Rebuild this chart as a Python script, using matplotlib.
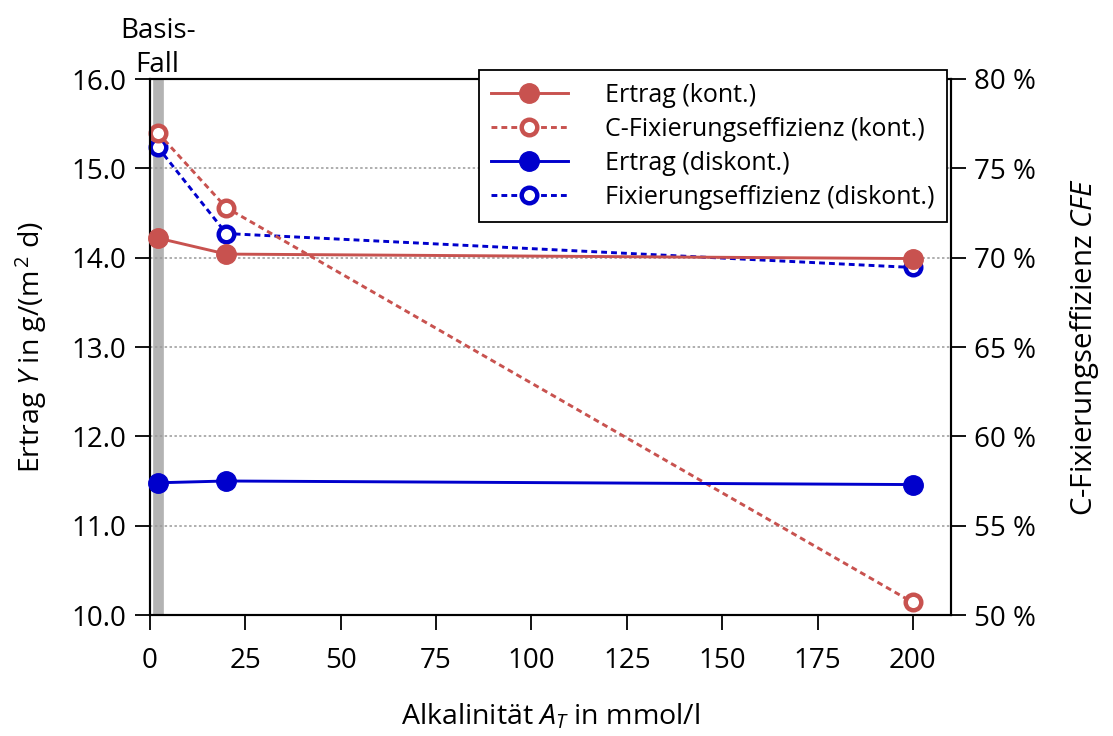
import matplotlib
matplotlib.use("Agg")
import matplotlib.pyplot as plt
from matplotlib.lines import Line2D
from matplotlib.ticker import FuncFormatter, MultipleLocator

plt.rcParams["font.family"] = ["Open Sans", "DejaVu Sans"]
plt.rcParams["mathtext.fontset"] = "custom"
plt.rcParams["mathtext.rm"] = "Open Sans"
plt.rcParams["mathtext.it"] = "Open Sans:italic"

# Alkalinity levels (mmol/l)
alkalinity = [2, 20, 200]
base_case = 2

# Yield in g/(m^2 d)
yield_cont = [14.22, 14.04, 13.99]
yield_discont = [11.48, 11.50, 11.46]

# Carbon fixation efficiency in %
cfe_cont = [77.0, 72.8, 50.7]
cfe_discont = [76.2, 71.35, 69.45]

red = "#c8524f"
blue = "#0000cc"
dash = (0, (2.0, 1.4))
lw = 2.1
ms_filled = 14.0
ms_open = 11.2
mew_open = 3.2

fig = plt.figure(figsize=(11.13, 7.36), dpi=100)
ax = fig.add_axes([150 / 1113, 1 - 615 / 736, 801 / 1113, 536 / 736])
ax2 = ax.twinx()
ax.set_zorder(ax2.get_zorder() + 1)
ax.patch.set_visible(False)

# base case marker and grid on the rear axes
ax2.axvline(base_case, color="#b3b3b3", lw=7.7, zorder=0)
ax2.grid(True, axis="both", linestyle=(0, (1.6, 1.6)), color="#999999",
         lw=1.1, zorder=0)

# efficiency curves (right axis)
ax2.plot(alkalinity, cfe_discont, color=blue, ls=dash, lw=lw,
         marker="o", ms=ms_open, mfc="white", mec=blue, mew=mew_open,
         clip_on=False, zorder=3)
ax2.plot(alkalinity, cfe_cont, color=red, ls=dash, lw=lw,
         marker="o", ms=ms_open, mfc="white", mec=red, mew=mew_open,
         clip_on=False, zorder=4)

# yield curves (left axis)
ax.plot(alkalinity, yield_discont, color=blue, lw=lw, marker="o", ms=ms_filled,
        clip_on=False, zorder=3)
ax.plot(alkalinity, yield_cont, color=red, lw=lw, marker="o", ms=ms_filled,
        clip_on=False, zorder=4)

ax.set_xlim(0, 210)
ax.set_ylim(10, 16)
ax2.set_ylim(50, 80)
ax.xaxis.set_major_locator(MultipleLocator(25))
ax.yaxis.set_major_locator(MultipleLocator(1))
ax2.yaxis.set_major_locator(MultipleLocator(5))
ax.yaxis.set_major_formatter(FuncFormatter(lambda v, p: f"{v:.1f}"))
ax2.yaxis.set_major_formatter(FuncFormatter(lambda v, p: f"{v:.0f} %"))

for a in (ax, ax2):
    a.tick_params(axis="both", direction="out", length=10.8, width=1.3,
                  labelsize=20, pad=6, colors="black")
    for s in a.spines.values():
        s.set_linewidth(1.5)
        s.set_color("black")
ax.tick_params(axis="x", pad=12)

ax.set_xlabel("Alkalinität $A_T$ in mmol/l", fontsize=20.5, labelpad=20)
ax.set_ylabel("Ertrag $Y$ in g/(m$^{\\,2}$ d)", fontsize=20.5, labelpad=16)
ax2.set_ylabel("C-Fixierungseffizienz $CFE$", fontsize=21.2, labelpad=23)

ax.text(base_case, 16.0, "Basis-\nFall", ha="center", va="bottom",
        fontsize=20, linespacing=1.3)

handles = [
    Line2D([], [], color=red, lw=lw, marker="o", ms=ms_filled),
    Line2D([], [], color=red, lw=lw, ls=dash, marker="o", ms=ms_open,
           mfc="white", mec=red, mew=mew_open),
    Line2D([], [], color=blue, lw=lw, marker="o", ms=ms_filled),
    Line2D([], [], color=blue, lw=lw, ls=dash, marker="o", ms=ms_open,
           mfc="white", mec=blue, mew=mew_open),
]
labels = ["Ertrag (kont.)", "C-Fixierungseffizienz (kont.)",
          "Ertrag (diskont.)", "Fixierungseffizienz (diskont.)"]
leg = ax.legend(handles, labels, loc="upper right",
                bbox_to_anchor=(947 / 1113, 1 - 70 / 736),
                bbox_transform=fig.transFigure, borderaxespad=0,
                fontsize=18, handlelength=3.05, handletextpad=1.5,
                labelspacing=0.36, fancybox=False, framealpha=1,
                edgecolor="black", borderpad=0.5)
leg.get_frame().set_linewidth(1.3)

fig.savefig("out.png", dpi=100)
